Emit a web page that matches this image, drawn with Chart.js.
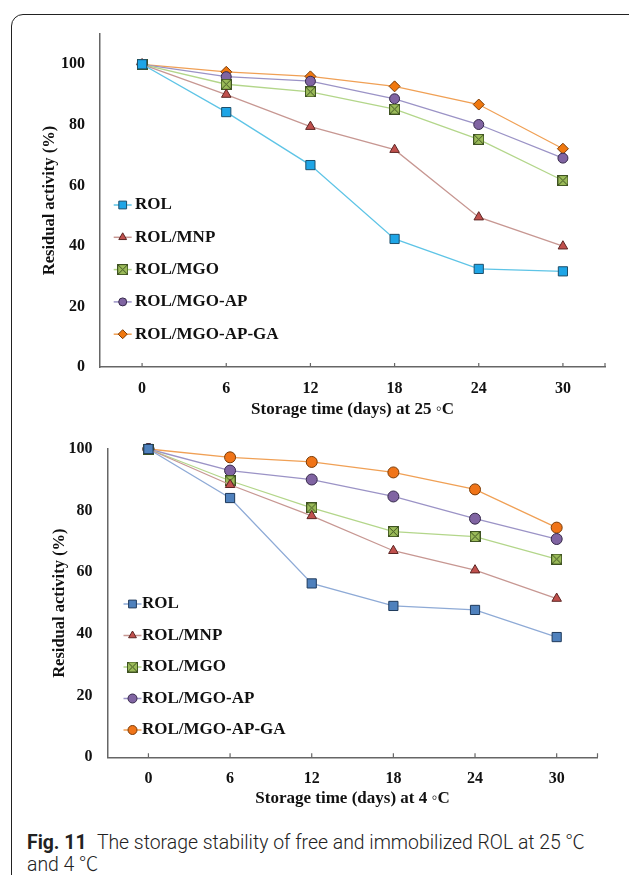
<!DOCTYPE html>
<html>
<head>
<meta charset="utf-8">
<script src="https://cdn.jsdelivr.net/npm/chart.js@4/dist/chart.umd.min.js"></script>
<style>
  html, body { margin: 0; padding: 0; background: #fff; }
  body { width: 629px; height: 875px; position: relative; overflow: hidden; }
  #frame { position: absolute; left: 11px; top: 14px; width: 700px; height: 900px;
           border: 1.5px solid #222; border-top-left-radius: 12px; box-sizing: border-box; }
  #c25 { position: absolute; left: 0; top: 0; }
  #c4 { position: absolute; left: 0; top: 420px; }
  #caption { position: absolute; left: 27px; top: 831px; width: 600px;
             font-family: Roboto, 'Open Sans', sans-serif; font-weight: 300; font-size: 19.4px;
             line-height: 20px; color: #222; white-space: nowrap; }
  #caption b { font-weight: 700; margin-right: 6px; }
  #caption .deg { font-family: 'Noto Sans CJK SC', sans-serif; font-weight: 300; }
</style>
</head>
<body>
<div id="frame"></div>
<canvas id="c25" width="629" height="420"></canvas>
<canvas id="c4" width="629" height="390"></canvas>
<div id="caption"><b>Fig. 11</b> The storage stability of free and immobilized ROL at 25 <span class="deg">℃</span><br>and 4 <span class="deg">℃</span></div>
<script>
// x categories and y ticks
const days = ['0', '6', '12', '18', '24', '30'];
const yTicks = [0, 20, 40, 60, 80, 100];
const seriesNames = ['ROL', 'ROL/MNP', 'ROL/MGO', 'ROL/MGO-AP', 'ROL/MGO-AP-GA'];

// storage at 25 C
const rol25 = [100, 84.2, 66.7, 42.3, 32.4, 31.6];
const mnp25 = [100, 90.0, 79.4, 71.8, 49.5, 39.9];
const mgo25 = [100, 93.4, 90.9, 85.2, 75.2, 61.6];
const ap25  = [100, 95.9, 94.4, 88.6, 80.1, 69.0];
const ga25  = [100, 97.5, 96.0, 92.7, 86.7, 72.1];

// storage at 4 C
const rol4 = [100, 84.1, 56.4, 49.1, 47.8, 39.0];
const mnp4 = [100, 88.4, 78.3, 67.0, 60.7, 51.5];
const mgo4 = [100, 89.7, 80.9, 73.2, 71.6, 64.3];
const ap4  = [100, 93.0, 90.1, 84.6, 77.4, 70.8];
const ga4  = [100, 97.3, 95.8, 92.4, 86.9, 74.5];

const SERIF = "'Liberation Serif', 'Times New Roman', serif";
const AXIS = '#666';

// green square with an X, like the excel marker
function xSquare() {
    const c = document.createElement('canvas');
    c.width = 11; c.height = 11;
    const g = c.getContext('2d');
    g.fillStyle = '#9bbb59';
    g.fillRect(0.5, 0.5, 10, 10);
    g.strokeStyle = '#3f5322';
    g.lineWidth = 1;
    g.strokeRect(0.5, 0.5, 10, 10);
    g.beginPath();
    g.moveTo(1, 1); g.lineTo(10, 10);
    g.moveTo(10, 1); g.lineTo(1, 10);
    g.stroke();
    return c;
}
const xMark = xSquare();

function series(label, data, line, fill, border, style, r) {
    return {
        label: label, data: data,
        borderColor: line, borderWidth: 1.3,
        pointBackgroundColor: fill, pointBorderColor: border, pointBorderWidth: 1,
        pointStyle: style, pointRadius: r, pointHoverRadius: r,
        clip: false, tension: 0
    };
}

// legend drawn inside the plot, line + marker + bold label
const insideLegend = {
    id: 'insideLegend',
    afterDraw(chart, args, o) {
        const ctx = chart.ctx;
        ctx.save();
        chart.data.datasets.forEach((ds, i) => {
            const y = o.y + i * o.gap;
            ctx.strokeStyle = ds.borderColor;
            ctx.lineWidth = 1.5;
            ctx.beginPath();
            ctx.moveTo(o.x - 9, y); ctx.lineTo(o.x + 9, y);
            ctx.stroke();
            ctx.fillStyle = ds.pointBackgroundColor;
            ctx.strokeStyle = ds.pointBorderColor;
            ctx.lineWidth = 1;
            Chart.helpers.drawPoint(ctx, {pointStyle: ds.pointStyle, radius: ds.pointRadius - 1, rotation: 0, borderWidth: 1}, o.x, y);
            ctx.fillStyle = '#111';
            ctx.font = 'bold 17px ' + SERIF;
            ctx.textBaseline = 'middle';
            ctx.textAlign = 'left';
            ctx.fillText(ds.label, o.textX, y);
        });
        ctx.restore();
    }
};

// small upward tick marks on the x axis
const innerTicks = {
    id: 'innerTicks',
    afterDraw(chart) {
        const sx = chart.scales.x, ctx = chart.ctx;
        ctx.save();
        ctx.strokeStyle = AXIS;
        ctx.lineWidth = 1.2;
        ctx.beginPath();
        sx.ticks.forEach((t, i) => {
            const px = sx.getPixelForTick(i);
            ctx.moveTo(px, sx.top); ctx.lineTo(px, sx.top - 4);
        });
        ctx.moveTo(sx.right, sx.top); ctx.lineTo(sx.right, sx.top - 4);
        ctx.stroke();
        ctx.restore();
    }
};

function makeChart(id, datasets, lay) {
    return new Chart(document.getElementById(id), {
        type: 'line',
        data: { labels: days, datasets: datasets },
        options: {
            responsive: false, animation: false, devicePixelRatio: 1,
            layout: { padding: { top: lay.top, right: lay.right, left: 0, bottom: 0 } },
            plugins: {
                legend: { display: false }, tooltip: { enabled: false },
                insideLegend: lay.legend
            },
            scales: {
                x: {
                    type: 'category', offset: true,
                    grid: { display: false, offset: false, drawTicks: false },
                    border: { display: true, color: AXIS, width: 1.5 },
                    ticks: { color: '#111', font: { family: SERIF, size: 16, weight: 'bold' }, padding: 12, maxRotation: 0 },
                    title: { display: true, text: lay.xTitle, color: '#111',
                             font: { family: SERIF, size: 17, weight: 'bold' }, padding: { top: 0, bottom: lay.xTitlePad } },
                    afterFit: s => { s.height = lay.xh; }
                },
                y: {
                    min: 0, max: lay.ymax,
                    grid: { display: false, drawTicks: false },
                    border: { display: true, color: AXIS, width: 1.5 },
                    afterBuildTicks: s => { s.ticks = yTicks.map(v => ({ value: v })); },
                    ticks: { color: '#111', font: { family: SERIF, size: 16, weight: 'bold' }, padding: 15 },
                    title: { display: true, text: 'Residual activity (%)', color: '#111',
                             font: { family: SERIF, size: 16.5, weight: 'bold' }, padding: { top: lay.yTitlePad, bottom: 0 } },
                    afterFit: s => { s.width = lay.yw; }
                }
            }
        },
        plugins: [insideLegend, innerTicks]
    });
}

const top25 = makeChart('c25', [
    series(seriesNames[0], rol25, '#5ec4e6', '#1ea5e6', '#1d4f6b', 'rect', 6.5),
    series(seriesNames[1], mnp25, '#c79792', '#c0504d', '#5c2523', 'triangle', 5.5),
    series(seriesNames[2], mgo25, '#b3d68a', '#9bbb59', '#3f5322', xMark, 5.5),
    series(seriesNames[3], ap25,  '#9b93c6', '#8064a2', '#35284a', 'circle', 5),
    series(seriesNames[4], ga25,  '#f0a055', '#f0780f', '#7a3b06', 'rectRot', 5.5)
], { top: 34, right: 24, yw: 100, xh: 53, ymax: 110, yTitlePad: 40, xTitlePad: 0,
     xTitle: 'Storage time (days) at 25 \u25E6C',
     legend: { x: 122.7, textX: 135, y: 205, gap: 32.3 } });

const bottom4 = makeChart('c4', [
    series(seriesNames[0], rol4, '#8eaad6', '#4f81bd', '#1f3a5c', 'rect', 6.5),
    series(seriesNames[1], mnp4, '#c79792', '#c0504d', '#5c2523', 'triangle', 5.5),
    series(seriesNames[2], mgo4, '#b3d68a', '#9bbb59', '#3f5322', xMark, 5.5),
    series(seriesNames[3], ap4,  '#9b93c6', '#8064a2', '#35284a', 'circle', 5.5),
    series(seriesNames[4], ga4,  '#f0a055', '#f07418', '#7a3b06', 'circle', 5.5)
], { top: 29, right: 31.5, yw: 107.6, xh: 52.7, ymax: 100, yTitlePad: 49.5, xTitlePad: 1,
     xTitle: 'Storage time (days) at 4 \u25E6C',
     legend: { x: 132.5, textX: 142, y: 184, gap: 31.5 } });
</script>
</body>
</html>
